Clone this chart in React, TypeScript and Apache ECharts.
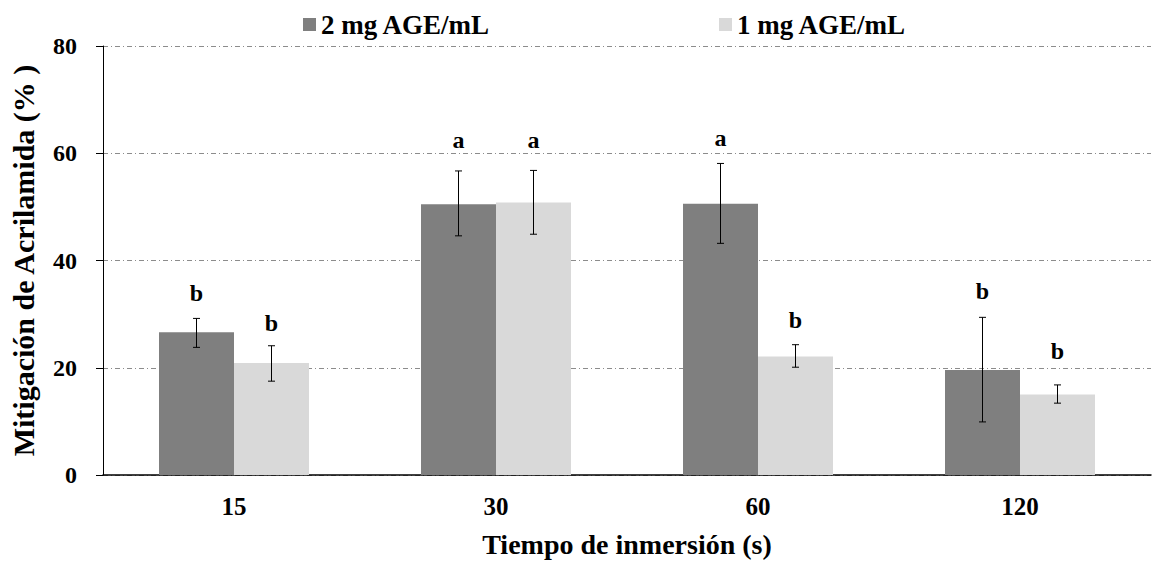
import React, { useEffect, useRef } from "react";
import * as echarts from "echarts";

const categories = ["15", "30", "60", "120"];
const seriesNames = ["2 mg AGE/mL", "1 mg AGE/mL"];
const dark = [26.6, 50.5, 50.6, 19.6];
const darkLow = [23.8, 44.6, 43.2, 9.9];
const darkHigh = [29.2, 56.7, 58.1, 29.4];
const light = [20.9, 50.8, 22.1, 15.0];
const lightLow = [17.5, 44.9, 20.1, 13.4];
const lightHigh = [24.1, 56.8, 24.3, 16.8];
const darkLetters = ["b", "a", "a", "b"];
const lightLetters = ["b", "a", "b", "b"];
const darkLetterY = [33.9, 62.4, 62.9, 34.4];
const lightLetterY = [28.3, 62.4, 28.9, 23.2];
const yTicks = [0, 20, 40, 60, 80];

const FONT = "Liberation Serif";
const BAR_W = 75;

export default function App() {
  const ref = useRef<HTMLDivElement>(null);
  useEffect(() => {
    if (!ref.current) return;
    const chart = echarts.init(ref.current, null, { renderer: "svg" });

    const makeErr = (low: number[], high: number[], letters: string[], letterY: number[], offset: number) => ({
      type: "custom",
      silent: true,
      z: 10,
      data: categories.map((_, i) => [i, low[i], high[i], letterY[i]]),
      renderItem: (params: any, api: any) => {
        const i = api.value(0);
        const lo = api.coord([i, api.value(1)]);
        const hi = api.coord([i, api.value(2)]);
        const ly = api.coord([i, api.value(3)]);
        const x = lo[0] + offset;
        const cap = 3.5;
        const st = { stroke: "#000", lineWidth: 1 };
        return {
          type: "group",
          children: [
            { type: "line", shape: { x1: x, y1: lo[1], x2: x, y2: hi[1] }, style: st },
            { type: "line", shape: { x1: x - cap, y1: lo[1], x2: x + cap, y2: lo[1] }, style: st },
            { type: "line", shape: { x1: x - cap, y1: hi[1], x2: x + cap, y2: hi[1] }, style: st },
            {
              type: "text",
              x: x,
              y: ly[1],
              style: {
                text: letters[i],
                fill: "#000",
                fontFamily: FONT,
                fontWeight: "bold",
                fontSize: 24,
                align: "center",
                verticalAlign: "middle",
              },
            },
          ],
        };
      },
    });

    const legendText = { fontFamily: FONT, fontWeight: "bold", fontSize: 27, color: "#000" };

    chart.setOption({
      animation: false,
      textStyle: { fontFamily: FONT },
      grid: { left: 101, right: 2, top: 46, bottom: 84, containLabel: false },
      legend: [
        {
          data: [seriesNames[0]],
          left: 298,
          top: 6,
          icon: "rect",
          itemWidth: 13,
          itemHeight: 13,
          textStyle: legendText,
        },
        {
          data: [seriesNames[1]],
          left: 714,
          top: 6,
          icon: "rect",
          itemWidth: 13,
          itemHeight: 13,
          textStyle: legendText,
        },
      ],
      xAxis: {
        type: "category",
        data: categories,
        name: "Tiempo de inmersión (s)",
        nameLocation: "middle",
        nameGap: 55,
        nameTextStyle: { fontFamily: FONT, fontWeight: "bold", fontSize: 28, color: "#000" },
        axisLine: { lineStyle: { color: "#000", width: 1.5 } },
        axisTick: { show: false },
        axisLabel: { fontFamily: FONT, fontWeight: "bold", fontSize: 25, color: "#000", margin: 19 },
      },
      yAxis: {
        type: "value",
        min: yTicks[0],
        max: yTicks[yTicks.length - 1],
        interval: 20,
        name: "Mitigación de Acrilamida (% )",
        nameLocation: "middle",
        nameGap: 65,
        nameTextStyle: { fontFamily: FONT, fontWeight: "bold", fontSize: 30, color: "#000" },
        axisLine: { show: true, lineStyle: { color: "#000", width: 1 } },
        axisTick: { show: true, inside: false, length: 7, lineStyle: { color: "#000" } },
        axisLabel: { fontFamily: FONT, fontWeight: "bold", fontSize: 24, color: "#000", margin: 26 },
        splitLine: { show: true, lineStyle: { color: "#8c8c8c", width: 1, type: [5, 3, 1, 3] } },
      },
      series: [
        {
          name: seriesNames[0],
          type: "bar",
          data: dark,
          barWidth: BAR_W,
          barGap: "0%",
          itemStyle: { color: "#7f7f7f" },
        },
        {
          name: seriesNames[1],
          type: "bar",
          data: light,
          barWidth: BAR_W,
          barGap: "0%",
          itemStyle: { color: "#d9d9d9" },
        },
        makeErr(darkLow, darkHigh, darkLetters, darkLetterY, -BAR_W / 2),
        makeErr(lightLow, lightHigh, lightLetters, lightLetterY, BAR_W / 2),
      ],
    });
    return () => chart.dispose();
  }, []);
  return (
    <div
      ref={ref}
      style={{ position: "fixed", left: 0, top: 0, width: 1153, height: 563, background: "#fff" }}
    />
  );
}
